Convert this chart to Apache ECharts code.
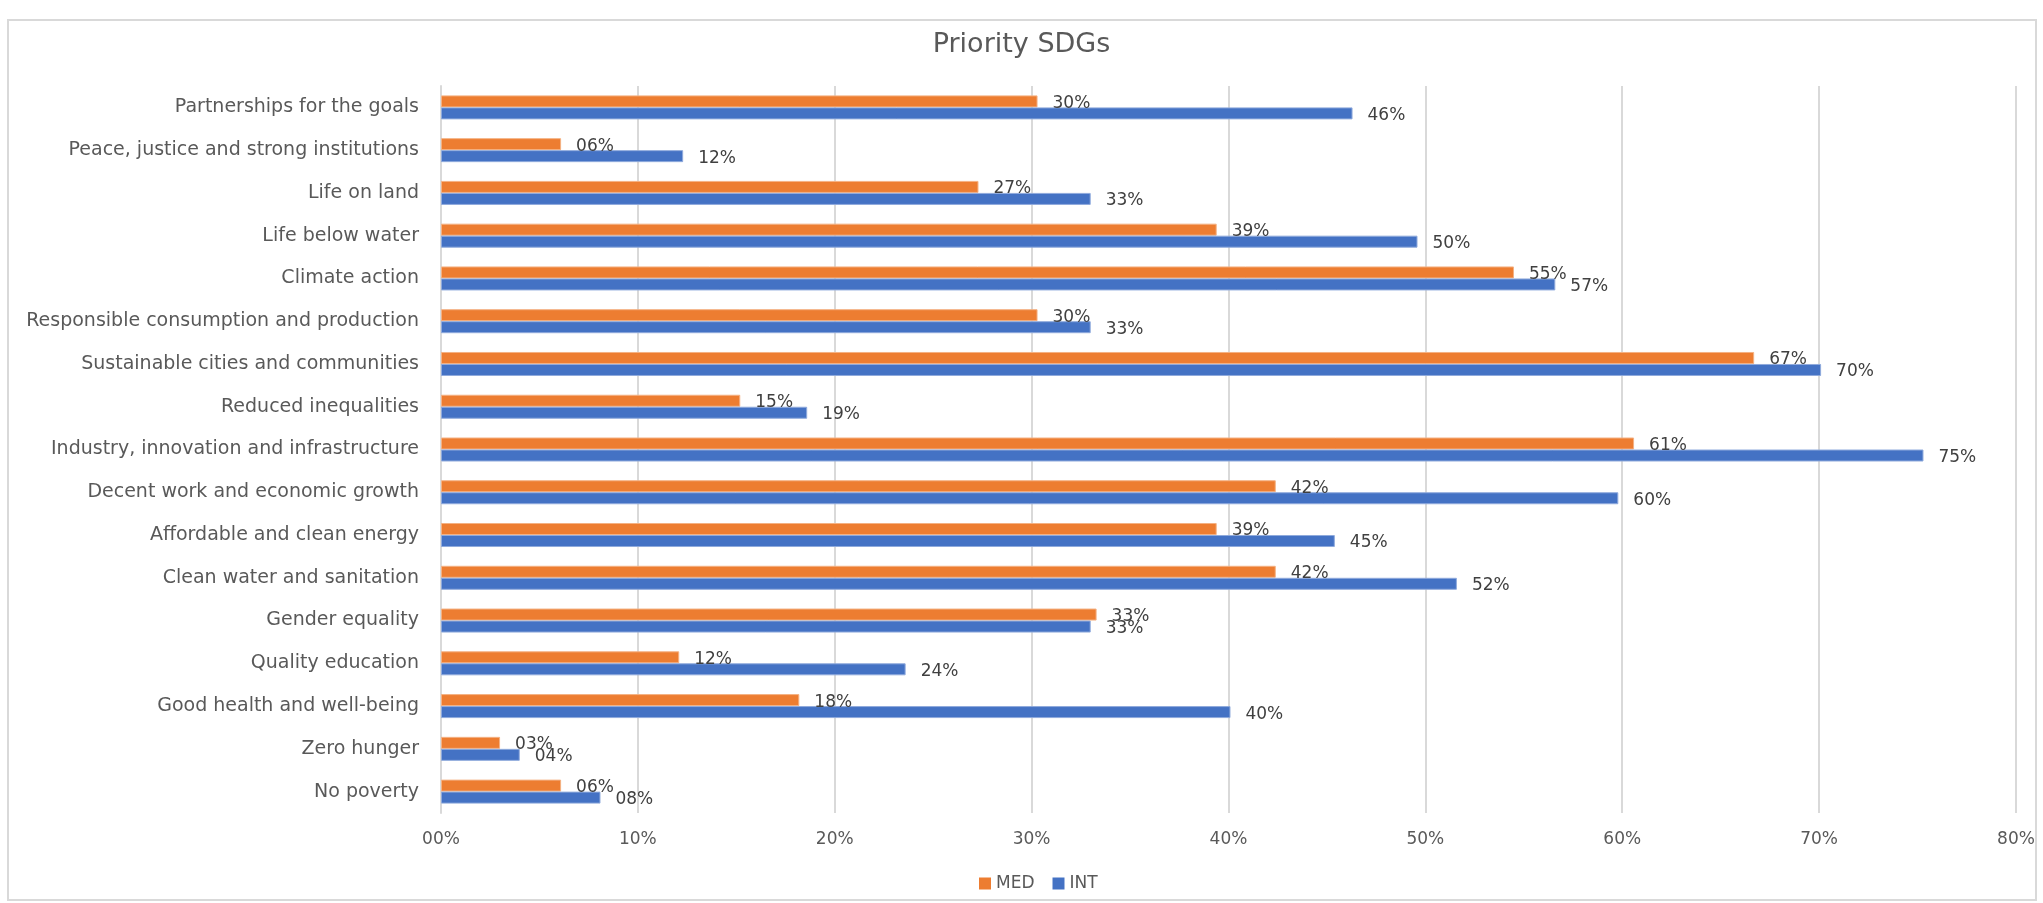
<!DOCTYPE html>
<html>
<head>
<meta charset="utf-8">
<title>Priority SDGs</title>
<script src="https://cdn.jsdelivr.net/npm/echarts@6/dist/echarts.min.js"></script>
<style>
  html, body { margin: 0; padding: 0; background: #ffffff; }
  #chart { width: 2043px; height: 903px; }
</style>
</head>
<body>
<div id="chart"></div>
<script>
// SDGs, listed from goal 1 (bottom of the chart) up to goal 17 (top)
const categories = [
  'No poverty',
  'Zero hunger',
  'Good health and well-being',
  'Quality education',
  'Gender equality',
  'Clean water and sanitation',
  'Affordable and clean energy',
  'Decent work and economic growth',
  'Industry, innovation and infrastructure',
  'Reduced inequalities',
  'Sustainable cities and communities',
  'Responsible consumption and production',
  'Climate action',
  'Life below water',
  'Life on land',
  'Peace, justice and strong institutions',
  'Partnerships for the goals'
];

// Share of respondents naming each goal as a priority
const medValues = [0.061, 0.030, 0.182, 0.121, 0.333, 0.424, 0.394, 0.424, 0.606, 0.152, 0.667, 0.303, 0.545, 0.394, 0.273, 0.061, 0.303];
const intValues = [0.081, 0.040, 0.401, 0.236, 0.330, 0.516, 0.454, 0.598, 0.753, 0.186, 0.701, 0.330, 0.566, 0.496, 0.330, 0.123, 0.463];

const seriesNames = ['MED', 'INT'];
const xTicks = { min: 0, max: 0.8, interval: 0.1 };

const FONT = 'DejaVu Sans';
const pct = v => String(Math.round(v * 100)).padStart(2, '0') + '%';

const chart = echarts.init(document.getElementById('chart'), null, { renderer: 'canvas' });

const barLabel = {
  show: true,
  position: 'right',
  distance: 15,
  offset: [0, 2],
  fontFamily: FONT,
  fontSize: 17,
  color: '#404040',
  formatter: p => pct(p.value)
};

chart.setOption({
  animation: false,
  backgroundColor: '#ffffff',
  textStyle: { fontFamily: FONT },
  graphic: [{
    type: 'rect',
    shape: { x: 8, y: 20, width: 2028, height: 880 },
    style: { fill: 'none', stroke: '#d9d9d9', lineWidth: 2 },
    silent: true
  }],
  title: {
    text: 'Priority SDGs',
    left: 'center',
    top: 26,
    textStyle: { fontFamily: FONT, fontSize: 27, fontWeight: 'normal', color: '#595959' }
  },
  legend: {
    data: seriesNames,
    left: 974,
    top: 870,
    itemWidth: 12,
    itemHeight: 12,
    itemGap: 18,
    icon: 'rect',
    itemStyle: { borderWidth: 0 },
    textStyle: { fontFamily: FONT, fontSize: 17, color: '#595959' }
  },
  grid: { left: 441, right: 27, top: 86, bottom: 90, containLabel: false },
  xAxis: {
    type: 'value',
    min: xTicks.min,
    max: xTicks.max,
    interval: xTicks.interval,
    axisLine: { show: false },
    axisTick: { show: false },
    splitLine: { show: true, lineStyle: { color: '#d9d9d9', width: 2 } },
    axisLabel: {
      margin: 18,
      fontFamily: FONT,
      fontSize: 17,
      color: '#595959',
      formatter: v => pct(v)
    }
  },
  yAxis: {
    type: 'category',
    data: categories,
    axisLine: { show: true, lineStyle: { color: '#d9d9d9', width: 2 } },
    axisTick: { show: false },
    splitLine: { show: false },
    axisLabel: {
      margin: 22,
      fontFamily: FONT,
      fontSize: 19,
      color: '#595959'
    }
  },
  series: [
    {
      name: 'MED',
      type: 'bar',
      data: medValues,
      barWidth: 12,
      barGap: '0%',
      itemStyle: { color: '#ed7d31', borderColor: '#f4b183', borderWidth: 1 },
      label: barLabel
    },
    {
      name: 'INT',
      type: 'bar',
      data: intValues,
      barWidth: 12,
      barGap: '0%',
      itemStyle: { color: '#4472c4', borderColor: '#8faadc', borderWidth: 1 },
      label: barLabel
    }
  ]
});
</script>
</body>
</html>
